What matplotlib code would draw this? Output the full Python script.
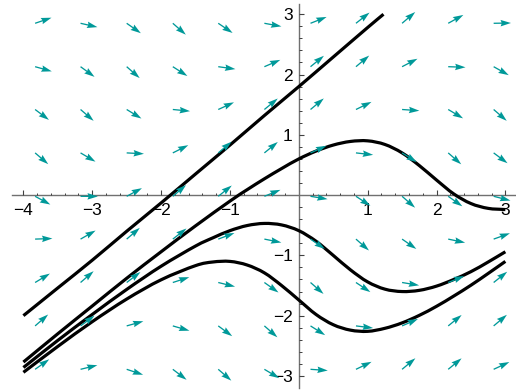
import matplotlib
matplotlib.use("Agg")
import matplotlib.pyplot as plt
from matplotlib.ticker import FixedLocator, FixedFormatter
from matplotlib.path import Path
from matplotlib.patches import PathPatch
import numpy as np

# Direction field grid (tail positions of the arrows)
field_x = [-3.83, -3.17, -2.5, -1.83, -1.17, -0.5, 0.17, 0.83, 1.5, 2.17, 2.83]
field_y = [2.85, 2.13, 1.42, 0.70, -0.02, -0.73, -1.45, -2.17, -2.89]

# Slope dy/dx of each arrow, one row per field_y entry
field_slopes = [
    [0.39, -0.26, -0.80, -1.00, -0.77, -0.21, 0.45, 0.90, 0.98, 0.63, 0.02],
    [-0.32, -0.83, -1.00, -0.73, -0.16, 0.49, 0.93, 0.96, 0.59, -0.04, -0.64],
    [-0.86, -0.99, -0.70, -0.11, 0.52, 0.94, 0.95, 0.56, -0.08, -0.68, -0.99],
    [-0.98, -0.67, -0.06, 0.57, 0.96, 0.93, 0.51, -0.13, -0.72, -1.00, -0.85],
    [-0.62, -0.01, 0.61, 0.97, 0.91, 0.46, -0.19, -0.75, -1.00, -0.81, -0.29],
    [0.04, 0.65, 0.98, 0.89, 0.43, -0.23, -0.78, -1.00, -0.79, -0.24, 0.41],
    [0.69, 0.99, 0.87, 0.37, -0.28, -0.81, -1.00, -0.76, -0.19, 0.46, 0.91],
    [1.00, 0.84, 0.32, -0.33, -0.84, -1.00, -0.72, -0.14, 0.50, 0.93, 0.96],
    [0.81, 0.28, -0.38, -0.87, -0.99, -0.68, -0.08, 0.55, 0.95, 0.94, 0.53],
]

# Solution curves
line_x = [-4.0, -3.5, -3.0, -2.5, -2.0, -1.5, -1.0, -0.5, 0.0, 0.5, 1.0, 1.23]
line_y = [-2.0, -1.54, -1.08, -0.60, -0.13, 0.35, 0.83, 1.32, 1.80, 2.29, 2.78, 3.0]

curve_a_x = [-4.0, -3.5, -3.0, -2.5, -2.0, -1.5, -1.0, -0.75, -0.5, -0.25, 0.0,
             0.25, 0.5, 0.75, 1.0, 1.25, 1.5, 1.75, 2.0, 2.25, 2.5, 2.75, 3.0]
curve_a_y = [-2.77, -2.30, -1.84, -1.38, -0.94, -0.51, -0.10, 0.09, 0.27, 0.44, 0.60,
             0.73, 0.83, 0.89, 0.90, 0.84, 0.70, 0.49, 0.25, 0.02, -0.14, -0.22, -0.24]

curve_b_x = [-4.0, -3.5, -3.0, -2.5, -2.0, -1.5, -1.25, -1.0, -0.75, -0.5, -0.25, 0.0,
             0.25, 0.5, 0.75, 1.0, 1.25, 1.5, 1.75, 2.0, 2.25, 2.5, 2.75, 3.0]
curve_b_y = [-2.86, -2.41, -1.98, -1.565, -1.18, -0.845, -0.71, -0.59, -0.505, -0.47, -0.495, -0.59,
             -0.765, -1.0, -1.24, -1.44, -1.56, -1.60, -1.58, -1.51, -1.40, -1.27, -1.11, -0.94]

curve_c_x = [-4.0, -3.5, -3.0, -2.5, -2.0, -1.5, -1.25, -1.0, -0.75, -0.5, -0.25, 0.0,
             0.25, 0.5, 0.75, 1.0, 1.25, 1.5, 1.75, 2.0, 2.25, 2.5, 2.75, 3.0]
curve_c_y = [-2.94, -2.51, -2.10, -1.725, -1.405, -1.17, -1.11, -1.10, -1.16, -1.29, -1.50, -1.74,
             -1.98, -2.15, -2.24, -2.26, -2.21, -2.12, -1.995, -1.845, -1.675, -1.495, -1.30, -1.10]

x_ticks = [-4, -3, -2, -1, 1, 2, 3]
y_ticks = [-3, -2, -1, 1, 2, 3]

plt.rcParams['font.family'] = ['Liberation Sans', 'DejaVu Sans']

W, H, DPI = 516, 390, 100
fig = plt.figure(figsize=(W / DPI, H / DPI), dpi=DPI)
ax = fig.add_axes([11.7 / W, 2 / H, 503.3 / W, 384 / H])
xlim = (-4.17, 3.14)
ylim = (-3.2, 3.17)
ax.set_xlim(*xlim)
ax.set_ylim(*ylim)

# Axes through the origin
for side in ("top", "right"):
    ax.spines[side].set_visible(False)
ax.spines["left"].set_position(("data", 0))
ax.spines["bottom"].set_position(("data", 0))
for side in ("left", "bottom"):
    ax.spines[side].set_color("#707070")
    ax.spines[side].set_linewidth(1.0)
    ax.spines[side].set_zorder(1)


def label(t):
    return "\u2212%d" % -t if t < 0 else "%d" % t


ax.xaxis.set_major_locator(FixedLocator(x_ticks))
ax.xaxis.set_major_formatter(FixedFormatter([label(t) for t in x_ticks]))
ax.yaxis.set_major_locator(FixedLocator(y_ticks))
ax.yaxis.set_major_formatter(FixedFormatter([label(t) for t in y_ticks]))
x_minor = [round(v, 1) for v in np.arange(-4.0, 3.01, 0.2) if abs(v - round(v)) > 1e-6]
y_minor = [round(v, 1) for v in np.arange(-3.0, 3.01, 0.2) if abs(v - round(v)) > 1e-6]
ax.xaxis.set_minor_locator(FixedLocator(x_minor))
ax.yaxis.set_minor_locator(FixedLocator(y_minor))
ax.tick_params(which="major", direction="in", length=3.3, width=0.8, color="#404040",
               labelsize=12.5, labelcolor="black")
ax.tick_params(which="minor", direction="in", length=1.8, width=0.7, color="#404040")
ax.tick_params(axis="x", which="major", pad=5.5)
ax.tick_params(axis="y", which="major", pad=4.3)


def smooth_path(xs, ys):
    """Cubic Bezier path through the given points (Catmull-Rom tangents)."""
    p = np.column_stack([xs, ys]).astype(float)
    n = len(p)
    tang = np.zeros_like(p)
    tang[1:-1] = (p[2:] - p[:-2]) / 2.0
    tang[0] = p[1] - p[0]
    tang[-1] = p[-1] - p[-2]
    verts = [tuple(p[0])]
    codes = [Path.MOVETO]
    for i in range(n - 1):
        c1 = p[i] + tang[i] / 3.0
        c2 = p[i + 1] - tang[i + 1] / 3.0
        verts += [tuple(c1), tuple(c2), tuple(p[i + 1])]
        codes += [Path.CURVE4] * 3
    return Path(verts, codes)


# Solution curves
for cx, cy in ((line_x, line_y), (curve_a_x, curve_a_y),
               (curve_b_x, curve_b_y), (curve_c_x, curve_c_y)):
    ax.add_patch(PathPatch(smooth_path(cx, cy), facecolor="none", edgecolor="black",
                           lw=2.3, capstyle="butt", zorder=3))

# Direction field: arrows of constant on-screen length
sx = 503.3 / (xlim[1] - xlim[0])
sy = 384 / (ylim[1] - ylim[0])
arrow_px = 17.3
X, Y = np.meshgrid(field_x, field_y)
S = np.array(field_slopes)
a = arrow_px / np.sqrt(sx ** 2 + (sy * S) ** 2)
U = a
V = a * S
ax.quiver(X, Y, U, V, angles="xy", scale_units="xy", scale=1, pivot="tail",
          units="dots", width=1.3, headwidth=5.0, headlength=8.0, headaxislength=7.2,
          color="#009999", zorder=4)

fig.savefig("out.png", dpi=DPI)
